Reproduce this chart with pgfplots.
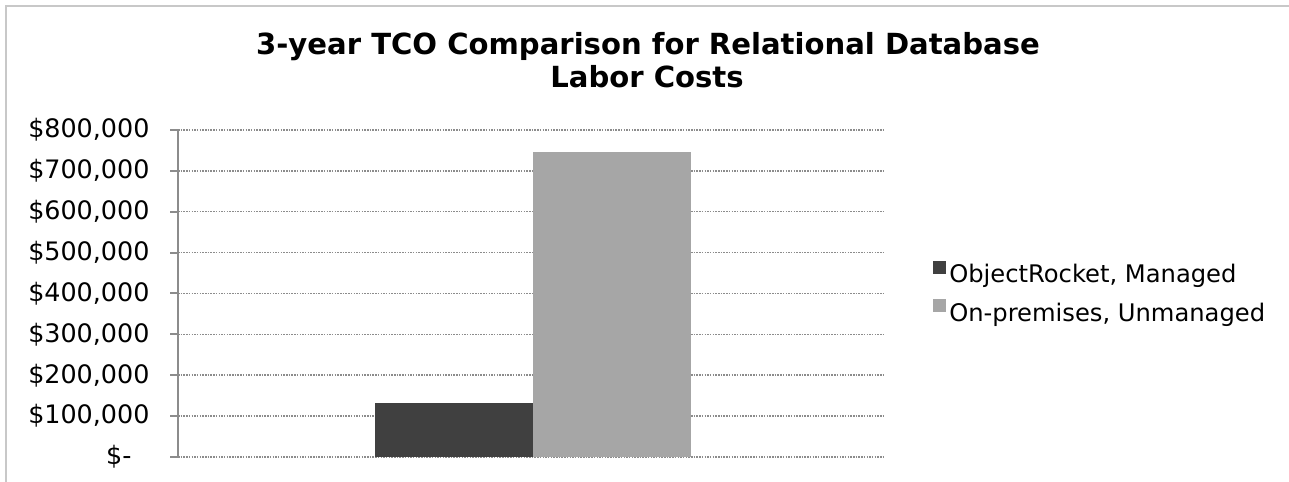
\documentclass[border=0pt]{standalone}
\usepackage{pgfplots}
\pgfplotsset{compat=1.18}
\usepackage{fontspec}
\setmainfont{DejaVu Sans}
\definecolor{darkbar}{HTML}{404040}
\definecolor{lightbar}{HTML}{A6A6A6}
\definecolor{gridc}{HTML}{8C8C8C}
\definecolor{framec}{HTML}{C8C8C8}
\begin{document}
\begin{tikzpicture}[x=1bp,y=1bp]
\useasboundingbox (0,0) rectangle (1289,482);
\draw[framec, line width=2bp] (5.5,0) -- (5.5,475.5) -- (1289,475.5);
\node[font=\fontsize{29.2}{34}\selectfont\bfseries, anchor=base, inner sep=0pt] at (648,427) {3-year TCO Comparison for Relational Database};
\node[font=\fontsize{29.2}{34}\selectfont\bfseries, anchor=base, inner sep=0pt] at (647,394) {Labor Costs};
\begin{axis}[
  at={(178bp,25bp)}, anchor=south west,
  scale only axis, width=707bp, height=327bp,
  xmin=0, xmax=1, ymin=0, ymax=800000,
  ybar, bar width=158bp,
  scaled y ticks=false,
  axis x line*=bottom, axis y line*=left,
  x axis line style={draw=none},
  y axis line style={gridc, line width=2bp, -},
  xtick=\empty,
  ytick={0,100000,200000,300000,400000,500000,600000,700000,800000},
  yticklabels={{\$-\hspace*{18bp}},{\$100,000},{\$200,000},{\$300,000},{\$400,000},{\$500,000},{\$600,000},{\$700,000},{\$800,000}},
  tick align=outside, major tick length=8bp,
  tick style={gridc, line width=2bp},
  yticklabel style={font=\fontsize{25.5}{30}\selectfont, anchor=east, xshift=-17bp},
  ymajorgrids,
  grid style={gridc, line width=1.5bp, dash pattern=on 1.5bp off 1.2bp},
  legend image code/.code={\fill[#1] (0bp,1bp) rectangle (13bp,14bp);},
  legend style={at={(1.068,0.5)}, anchor=west, draw=none, fill=none,
    font=\fontsize{24.3}{30}\selectfont, row sep=12bp, inner sep=0pt,
    nodes={inner sep=3bp}},
  legend cell align=left,
]
\addplot[fill=darkbar, draw=none, bar shift=-79bp] coordinates {(0.502,132000)};
\addplot[fill=lightbar, draw=none, bar shift=79bp] coordinates {(0.502,747000)};
\legend{{ObjectRocket{,} Managed},{On-premises{,} Unmanaged}}
\end{axis}
\end{tikzpicture}
\end{document}
